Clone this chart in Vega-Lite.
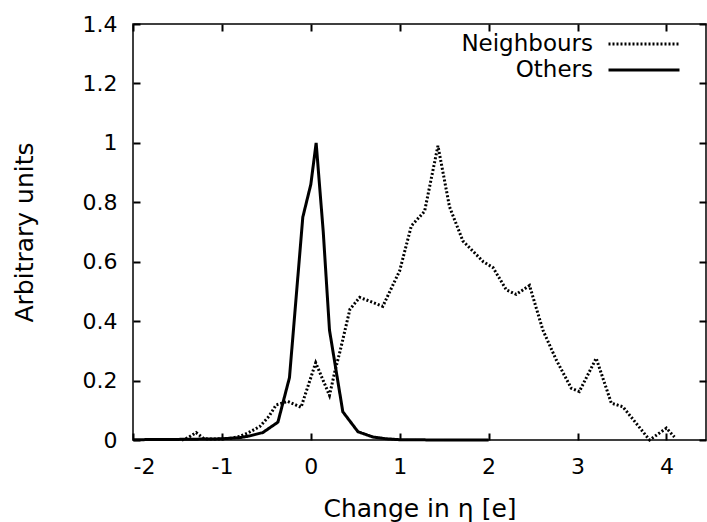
{
  "$schema": "https://vega.github.io/schema/vega-lite/v6.json",
  "width": 573,
  "height": 416,
  "autosize": {"type": "none"},
  "padding": {"left": 133, "top": 24, "right": 1, "bottom": 82},
  "background": "white",
  "config": {
    "font": "DejaVu Sans",
    "view": {"stroke": "black", "strokeWidth": 1.5},
    "axis": {
      "domain": false,
      "grid": false,
      "labelColor": "black",
      "labelFontSize": 22,
      "titleColor": "black",
      "titleFontSize": 25,
      "titleFontWeight": "normal"
    }
  },
  "data": {
    "values": [
      {"series": "Neighbours", "x": -1.45, "y": 0},
      {"series": "Neighbours", "x": -1.38, "y": 0.008},
      {"series": "Neighbours", "x": -1.29, "y": 0.025},
      {"series": "Neighbours", "x": -1.2, "y": 0.004},
      {"series": "Neighbours", "x": -1.05, "y": 0.003},
      {"series": "Neighbours", "x": -0.9, "y": 0.006},
      {"series": "Neighbours", "x": -0.8, "y": 0.012},
      {"series": "Neighbours", "x": -0.7, "y": 0.025},
      {"series": "Neighbours", "x": -0.575, "y": 0.045},
      {"series": "Neighbours", "x": -0.47, "y": 0.08},
      {"series": "Neighbours", "x": -0.39, "y": 0.118},
      {"series": "Neighbours", "x": -0.26, "y": 0.13},
      {"series": "Neighbours", "x": -0.11, "y": 0.11},
      {"series": "Neighbours", "x": 0.055, "y": 0.26},
      {"series": "Neighbours", "x": 0.21, "y": 0.15},
      {"series": "Neighbours", "x": 0.27, "y": 0.23},
      {"series": "Neighbours", "x": 0.33, "y": 0.3},
      {"series": "Neighbours", "x": 0.44, "y": 0.44},
      {"series": "Neighbours", "x": 0.55, "y": 0.48},
      {"series": "Neighbours", "x": 0.81, "y": 0.45},
      {"series": "Neighbours", "x": 1.0, "y": 0.57},
      {"series": "Neighbours", "x": 1.13, "y": 0.72},
      {"series": "Neighbours", "x": 1.28, "y": 0.77},
      {"series": "Neighbours", "x": 1.43, "y": 0.99},
      {"series": "Neighbours", "x": 1.56, "y": 0.785},
      {"series": "Neighbours", "x": 1.71, "y": 0.67},
      {"series": "Neighbours", "x": 1.94, "y": 0.6},
      {"series": "Neighbours", "x": 2.05, "y": 0.58},
      {"series": "Neighbours", "x": 2.2, "y": 0.505},
      {"series": "Neighbours", "x": 2.31, "y": 0.49},
      {"series": "Neighbours", "x": 2.46, "y": 0.52},
      {"series": "Neighbours", "x": 2.61, "y": 0.37},
      {"series": "Neighbours", "x": 2.76, "y": 0.27},
      {"series": "Neighbours", "x": 2.93, "y": 0.174},
      {"series": "Neighbours", "x": 3.02, "y": 0.163},
      {"series": "Neighbours", "x": 3.21, "y": 0.275},
      {"series": "Neighbours", "x": 3.38, "y": 0.124},
      {"series": "Neighbours", "x": 3.51, "y": 0.112},
      {"series": "Neighbours", "x": 3.81, "y": 0.0},
      {"series": "Neighbours", "x": 4.0, "y": 0.04},
      {"series": "Neighbours", "x": 4.09, "y": 0.01},
      {"series": "Others", "x": -2.0, "y": 0.001},
      {"series": "Others", "x": -1.5, "y": 0.002},
      {"series": "Others", "x": -1.0, "y": 0.004},
      {"series": "Others", "x": -0.8, "y": 0.008},
      {"series": "Others", "x": -0.7, "y": 0.013},
      {"series": "Others", "x": -0.54, "y": 0.025},
      {"series": "Others", "x": -0.37, "y": 0.06},
      {"series": "Others", "x": -0.24, "y": 0.21},
      {"series": "Others", "x": -0.09, "y": 0.75},
      {"series": "Others", "x": 0.0, "y": 0.86},
      {"series": "Others", "x": 0.06, "y": 1.0},
      {"series": "Others", "x": 0.14, "y": 0.7},
      {"series": "Others", "x": 0.21, "y": 0.37},
      {"series": "Others", "x": 0.36, "y": 0.095},
      {"series": "Others", "x": 0.53, "y": 0.028},
      {"series": "Others", "x": 0.7, "y": 0.01},
      {"series": "Others", "x": 0.85, "y": 0.004},
      {"series": "Others", "x": 1.0, "y": 0.001},
      {"series": "Others", "x": 1.5, "y": 0},
      {"series": "Others", "x": 2.0, "y": 0}
    ]
  },
  "layer": [
    {
      "mark": {"type": "line", "color": "black", "strokeWidth": 3},
      "encoding": {
        "x": {
          "field": "x", "type": "quantitative",
          "scale": {"domain": [-2, 4.445], "nice": false, "zero": false},
          "axis": {
            "orient": "bottom",
            "values": [-2, -1, 0, 1, 2, 3, 4],
            "labelExpr": "'' + datum.value",
            "tickSize": -7,
            "tickWidth": 2,
            "tickColor": "black",
            "labelPadding": 23,
            "title": "Change in η [e]",
            "titlePadding": 19
          }
        },
        "y": {
          "field": "y", "type": "quantitative",
          "scale": {"domain": [0, 1.4], "nice": false},
          "axis": {
            "orient": "left",
            "values": [0, 0.2, 0.4, 0.6, 0.8, 1, 1.2, 1.4],
            "format": "~g",
            "tickSize": -7,
            "tickWidth": 2,
            "tickColor": "black",
            "labelPadding": 23,
            "title": "Arbitrary units",
            "titlePadding": 45
          }
        },
        "strokeDash": {
          "field": "series", "type": "nominal",
          "scale": {"domain": ["Neighbours", "Others"], "range": [[2, 2], [1, 0]]},
          "legend": {
            "title": null,
            "orient": "none",
            "legendX": 497,
            "legendY": 6,
            "padding": 0,
            "symbolType": "M-2.84,0H2.84",
            "symbolSize": 625,
            "symbolStrokeWidth": 3,
            "symbolStrokeColor": "black",
            "symbolOpacity": 1,
            "rowPadding": 0,
            "labelFontSize": 23,
            "labelColor": "black",
            "labelAlign": "right",
            "labelOffset": -65,
            "labelLimit": 300
          }
        }
      }
    },
    {
      "mark": {"type": "point", "size": 0, "opacity": 0},
      "encoding": {
        "x": {
          "field": "x", "type": "quantitative",
          "axis": {"orient": "top", "values": [-2, -1, 0, 1, 2, 3, 4], "tickSize": -7, "tickWidth": 2, "tickColor": "black", "labels": false, "title": null}
        },
        "y": {
          "field": "y", "type": "quantitative",
          "axis": {"orient": "right", "values": [0, 0.2, 0.4, 0.6, 0.8, 1, 1.2, 1.4], "tickSize": -7, "tickWidth": 2, "tickColor": "black", "labels": false, "title": null}
        }
      }
    }
  ],
  "resolve": {"axis": {"x": "independent", "y": "independent"}}
}
